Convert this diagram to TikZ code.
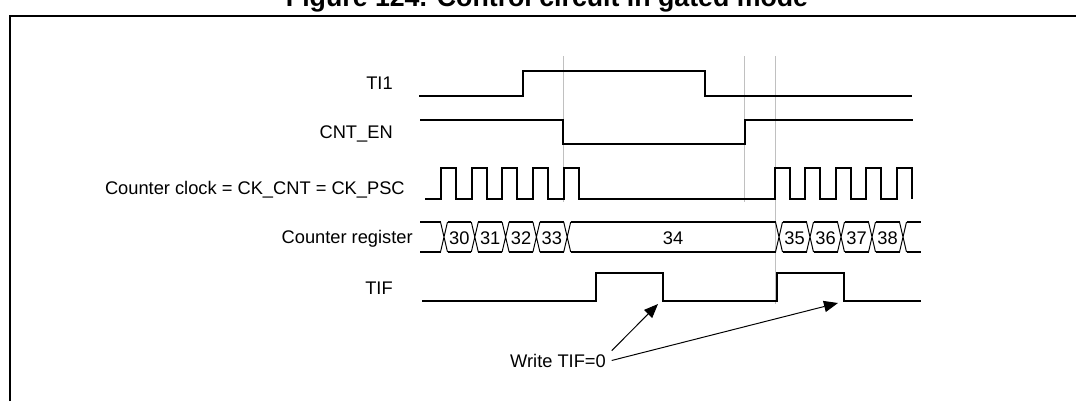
\documentclass[tikz,border=0pt]{standalone}
\usepackage{fontspec}
\setmainfont{Liberation Sans}
\usetikzlibrary{arrows.meta,positioning,calc}
\definecolor{guidegray}{RGB}{192,192,192}

\begin{document}
\begin{tikzpicture}[
  x=0.025cm, y=-0.025cm,
  signal/.style={line width=1.4pt, line join=miter},
  busedge/.style={line width=0.7pt},
  guide/.style={guidegray, line width=0.7pt},
  frame/.style={line width=1.4pt},
  signame/.style={font=\fontsize{13}{15}\selectfont, anchor=base east, inner sep=0pt},
  value/.style={font=\fontsize{13}{15}\selectfont, anchor=base, inner sep=0pt},
  note/.style={font=\fontsize{13}{15}\selectfont, anchor=base, inner ysep=2pt, inner xsep=4pt},
  arrow/.style={-{Triangle[length=10pt,width=8pt]}, line width=0.7pt}
]
\useasboundingbox (0,0) rectangle (1076,401);
\clip (0,0) rectangle (1076,401);

% titre et cadre
\node[font=\fontsize{19}{22}\selectfont\bfseries, anchor=base] (title) at (547,7)
  {Figure 124. Control circuit in gated mode};
\draw[frame] (10,401) -- (10,16) -- (1076,16);

% lignes de repere
\draw[guide] (563,56) -- (563,202);
\draw[guide] (744,56) -- (744,202);
\draw[guide] (775,56) -- (775,304);

% noms des signaux
\node[signame] (ti1) at (393,89) {TI1};
\node[signame] (cnten) at (393,138) {CNT\_EN};
\node[signame] (ckcnt) at (405,194) {Counter clock = CK\_CNT = CK\_PSC};
\node[signame] (cntreg) at (413,243) {Counter register};
\node[signame] (tif) at (393,294) {TIF};

% TI1
\draw[signal] (419,96) -- (523,96) -- (523,71) -- (705,71) -- (705,96) -- (912,96);

% CNT_EN
\draw[signal] (420,120) -- (563,120) -- (563,144) -- (745,144) -- (745,120) -- (913,120);

% horloge
\draw[signal] (425,199)
  foreach \r in {441,471.7,502.4,533.1,563.8} { -- (\r,199) -- (\r,168) -- (\r+15,168) -- (\r+15,199) }
  -- (775,199)
  foreach \r in {775,805.4,835.8,866.2,896.6} { -- (\r,199) -- (\r,168) -- (\r+15,168) -- (\r+15,199) };

% registre compteur
\foreach \a/\b in {420/440.5, 447.5/471.3, 478.3/502.1, 509.1/532.9, 539.9/563.7,
                   570.7/775.5, 782.5/806.5, 813.5/837.5, 844.5/868.5, 875.5/899.5, 906.5/921}
  \draw[signal] (\a,222) -- (\b,222) (\a,252) -- (\b,252);
\foreach \c in {444,474.8,505.6,536.4,567.2,779,810,841,872,903}
  \draw[busedge] (\c-3.5,222) -- (\c+3.5,252) (\c-3.5,252) -- (\c+3.5,222);
\foreach \v/\x in {30/459.4, 31/490.2, 32/521, 33/551.8, 34/673.1,
                   35/794.5, 36/825.5, 37/856.5, 38/887.5}
  \node[value] (val\v) at (\x,244) {\v};

% TIF
\draw[signal] (422,301) -- (596,301) -- (596,273) -- (663,273) -- (663,301)
  -- (777,301) -- (777,273) -- (844,273) -- (844,301) -- (921,301);

% effacement de TIF
\node[note] (write) at (558,367) {Write TIF=0};
\coordinate (clr1) at (658,304);
\coordinate (clr2) at (838,303);
\draw[arrow] (write.north east) -- (clr1);
\draw[arrow] (write.east) -- (clr2);

\end{tikzpicture}
\end{document}
